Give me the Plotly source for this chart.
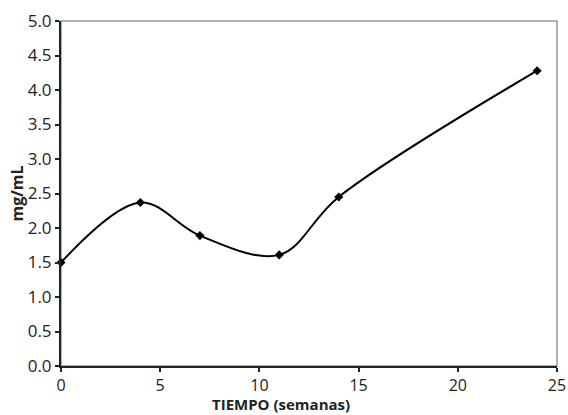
import plotly.graph_objects as go

# semanas vs concentración (mg/mL)
semanas = [0, 4, 7, 11, 14, 24]
mg_ml = [1.5, 2.37, 1.89, 1.61, 2.45, 4.28]

x_ticks = [0, 5, 10, 15, 20, 25]
y_ticks = [0, 0.5, 1, 1.5, 2, 2.5, 3, 3.5, 4, 4.5, 5]
y_labels = [f"{v:.1f}" for v in y_ticks]

font = "Open Sans, Noto Sans, sans-serif"

fig = go.Figure()
fig.add_trace(go.Scatter(
    x=semanas, y=mg_ml, mode="lines+markers",
    line=dict(color="black", width=2, shape="spline", smoothing=1.0),
    marker=dict(symbol="diamond", size=7, color="black"),
    error_y=dict(type="constant", value=0.05, color="black", thickness=1.5, width=0),
    showlegend=False, cliponaxis=False,
))

# marco gris (arriba/derecha)
fig.add_shape(type="rect", xref="paper", yref="paper", x0=0, y0=0, x1=1, y1=1,
              line=dict(color="#999999", width=1.5), layer="below")

# título del eje x centrado en la figura, no en el área del gráfico
fig.add_annotation(text="<b>TIEMPO (semanas)</b>", xref="paper", yref="paper",
                   x=0.4435, y=0, yshift=-49, xanchor="center", yanchor="bottom",
                   showarrow=False, font=dict(size=15), borderpad=0)

fig.update_layout(
    width=568, height=415,
    margin=dict(l=61, r=11, t=21, b=49),
    paper_bgcolor="white", plot_bgcolor="white",
    font=dict(family=font, size=17, color="#222222"),
)
fig.update_xaxes(
    range=[0, 25], tickvals=x_ticks, ticks="outside", ticklen=4, tickwidth=2,
    tickcolor="#222222", showline=True, linecolor="#222222", linewidth=2,
    showgrid=False, zeroline=False, automargin=False, ticklabeloverflow="allow",
    tickfont=dict(size=16),
)
fig.update_yaxes(
    range=[0, 5], tickvals=y_ticks, ticktext=y_labels, ticks="outside", ticklen=4,
    tickwidth=2, tickcolor="#222222", showline=True, linecolor="#222222", linewidth=2,
    showgrid=False, zeroline=False, automargin=False, ticklabeloverflow="allow",
    title=dict(text="<b>mg/mL</b>", font=dict(size=16), standoff=0),
)

fig.write_html("out.html", config={"displayModeBar": False},
               post_script="document.body.style.margin='0';")
